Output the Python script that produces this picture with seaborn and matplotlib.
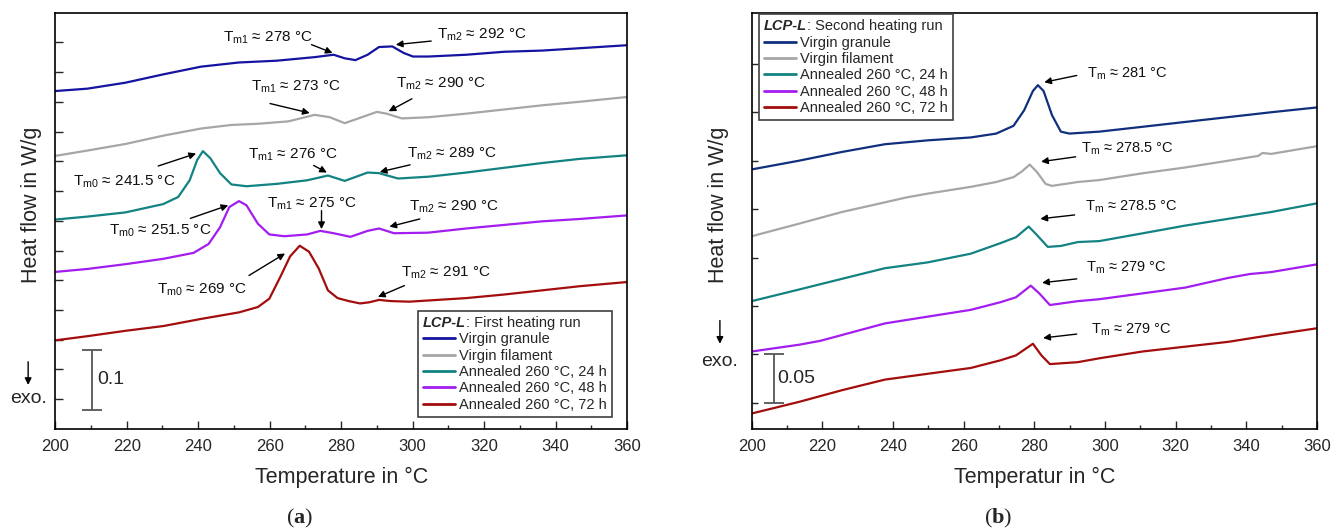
import numpy as np
import pandas as pd
import matplotlib
matplotlib.use("Agg")
import matplotlib.pyplot as plt
import seaborn as sns
from matplotlib.ticker import MultipleLocator, FixedLocator, NullFormatter
from matplotlib.lines import Line2D

# ------------------------------------------------------------------ data
series_labels = ["Virgin granule", "Virgin filament", "Annealed 260 °C, 24 h",
                 "Annealed 260 °C, 48 h", "Annealed 260 °C, 72 h"]

# Panel (a): first heating run (heat flow in W/g, offset curves)
a_T_granule = [200, 209, 219.6, 230.2, 240.8, 251.4, 262, 272.6, 277.9, 281, 284, 287.4, 290.6, 294.3,
               297.5, 300.1, 304.4, 315, 325.6, 336.2, 346.8, 360]
a_H_granule = [0.568, 0.572, 0.582, 0.596, 0.609, 0.616, 0.619, 0.625, 0.629, 0.623, 0.620, 0.629, 0.642,
               0.643, 0.632, 0.626, 0.626, 0.629, 0.634, 0.636, 0.640, 0.645]

a_T_filament = [200, 209, 219.6, 230.2, 240.8, 249.3, 256.7, 265.2, 272.6, 276.8, 281, 285.3, 290, 292.7,
                297, 304.4, 315, 325.6, 336.2, 346.8, 360]
a_H_filament = [0.459, 0.468, 0.479, 0.493, 0.505, 0.511, 0.513, 0.517, 0.528, 0.524, 0.514, 0.523, 0.533,
                0.530, 0.522, 0.524, 0.530, 0.537, 0.544, 0.550, 0.558]

a_T_24h = [200, 209, 219.6, 230.2, 234.4, 237.6, 239.7, 241.3, 243.4, 246.1, 249.3, 253.5, 262, 270.5,
           276.3, 281, 287.4, 290.6, 295.9, 304.4, 315, 325.6, 336.2, 346.8, 360]
a_H_24h = [0.352, 0.357, 0.364, 0.378, 0.390, 0.418, 0.452, 0.467, 0.455, 0.430, 0.411, 0.408, 0.412, 0.418,
           0.426, 0.417, 0.431, 0.430, 0.421, 0.424, 0.431, 0.439, 0.447, 0.454, 0.460]

a_T_48h = [200, 209, 219.6, 230.2, 238.7, 242.9, 246.1, 248.7, 251.4, 253.5, 256.7, 259.9, 264.1, 270.5,
           274.2, 277.9, 282.6, 287.4, 290.6, 294.8, 304.4, 315, 325.6, 336.2, 346.8, 360]
a_H_48h = [0.264, 0.269, 0.277, 0.286, 0.296, 0.311, 0.339, 0.373, 0.383, 0.376, 0.345, 0.327, 0.324, 0.327,
           0.333, 0.329, 0.323, 0.333, 0.337, 0.329, 0.330, 0.337, 0.343, 0.349, 0.353, 0.359]

a_T_72h = [200, 209, 219.6, 230.2, 240.8, 251.4, 256.7, 259.9, 263, 265.7, 268.4, 271, 273.7, 276.3, 279,
           282.1, 285.3, 287.9, 290.6, 293.8, 299.1, 315, 325.6, 336.2, 346.8, 360]
a_H_72h = [0.149, 0.156, 0.165, 0.173, 0.185, 0.196, 0.205, 0.219, 0.256, 0.290, 0.308, 0.298, 0.270, 0.233,
           0.220, 0.215, 0.211, 0.213, 0.217, 0.215, 0.214, 0.220, 0.226, 0.233, 0.240, 0.247]

# Panel (b): second heating run
b_T_granule = [200, 213.4, 225.5, 237.7, 249.8, 262, 269.2, 274.1, 277.1, 279.6, 281, 282.6, 285, 287.5,
               289.9, 298.4, 310.6, 322.7, 334.9, 347, 360]
b_H_granule = [0.241, 0.250, 0.259, 0.267, 0.271, 0.274, 0.278, 0.286, 0.302, 0.322, 0.328, 0.322, 0.297,
               0.280, 0.278, 0.280, 0.285, 0.290, 0.295, 0.300, 0.305]

b_T_filament = [200, 213.4, 225.5, 237.7, 243.7, 249.8, 262, 269.2, 274.1, 276.5, 278.7, 280.8, 283.2, 285,
                292.3, 298.4, 310.6, 322.7, 334.9, 343.4, 344.6, 347, 360]
b_H_filament = [0.172, 0.185, 0.197, 0.207, 0.212, 0.216, 0.223, 0.228, 0.233, 0.239, 0.246, 0.238, 0.226,
                0.224, 0.228, 0.230, 0.237, 0.243, 0.250, 0.255, 0.258, 0.257, 0.265]

b_T_24h = [200, 213.4, 225.5, 237.7, 249.8, 262, 270.5, 274.8, 278.4, 280.8, 283.8, 287.5, 292.3, 298.4,
           310.6, 322.7, 334.9, 347, 360]
b_H_24h = [0.105, 0.117, 0.128, 0.139, 0.145, 0.154, 0.165, 0.171, 0.182, 0.173, 0.161, 0.162, 0.166, 0.167,
           0.175, 0.183, 0.190, 0.197, 0.206]

b_T_48h = [200, 213.4, 219.4, 225.5, 237.7, 249.8, 262, 270.5, 274.8, 279, 281.4, 284.4, 292.3, 298.4,
           310.6, 322.7, 330, 334.9, 341, 347, 360]
b_H_48h = [0.053, 0.060, 0.064, 0.070, 0.082, 0.089, 0.096, 0.104, 0.109, 0.121, 0.113, 0.101, 0.105, 0.107,
           0.113, 0.119, 0.125, 0.129, 0.133, 0.135, 0.143]

b_T_72h = [200, 213.4, 225.5, 237.7, 249.8, 262, 270.5, 274.8, 279.6, 282, 284.4, 292.3, 298.4, 310.6,
           322.7, 334.9, 347, 360]
b_H_72h = [-0.011, 0.001, 0.013, 0.024, 0.030, 0.036, 0.044, 0.049, 0.061, 0.049, 0.040, 0.042, 0.046,
           0.053, 0.058, 0.063, 0.070, 0.077]

# annotations: (text, text position, arrow tail, arrow head)
a_annotations = [
    (r"T$_{\mathrm{m1}}$ ≈ 278 °C", (259.5, 0.657), (271.7, 0.646), (277.6, 0.632)),
    (r"T$_{\mathrm{m2}}$ ≈ 292 °C", (319.5, 0.663), (305.2, 0.652), (295.3, 0.646)),
    (r"T$_{\mathrm{m1}}$ ≈ 273 °C", (267.4, 0.575), (260.1, 0.547), (271.2, 0.531)),
    (r"T$_{\mathrm{m2}}$ ≈ 290 °C", (307.8, 0.580), (299.8, 0.555), (293.3, 0.534)),
    (r"T$_{\mathrm{m0}}$ ≈ 241.5 °C", (219.2, 0.415), (228.8, 0.442), (239.4, 0.463)),
    (r"T$_{\mathrm{m1}}$ ≈ 276 °C", (266.4, 0.461), (272.3, 0.443), (276.0, 0.431)),
    (r"T$_{\mathrm{m2}}$ ≈ 289 °C", (311.0, 0.463), (299.3, 0.444), (290.8, 0.432)),
    (r"T$_{\mathrm{m0}}$ ≈ 251.5 °C", (229.3, 0.333), (237.8, 0.354), (248.4, 0.376)),
    (r"T$_{\mathrm{m1}}$ ≈ 275 °C", (271.7, 0.379), (274.5, 0.367), (274.5, 0.336)),
    (r"T$_{\mathrm{m2}}$ ≈ 290 °C", (311.5, 0.374), (302.0, 0.353), (293.5, 0.340)),
    (r"T$_{\mathrm{m0}}$ ≈ 269 °C", (241.0, 0.234), (254.2, 0.258), (264.3, 0.295)),
    (r"T$_{\mathrm{m2}}$ ≈ 291 °C", (309.4, 0.262), (297.7, 0.241), (290.3, 0.222)),
]
b_annotations = [
    (r"T$_{\mathrm{m}}$ ≈ 281 °C", (306.2, 0.340), (292.0, 0.338), (282.8, 0.331)),
    (r"T$_{\mathrm{m}}$ ≈ 278.5 °C", (306.2, 0.262), (291.7, 0.254), (281.9, 0.249)),
    (r"T$_{\mathrm{m}}$ ≈ 278.5 °C", (307.5, 0.202), (291.4, 0.194), (281.7, 0.190)),
    (r"T$_{\mathrm{m}}$ ≈ 279 °C", (306.0, 0.139), (292.0, 0.128), (282.2, 0.124)),
    (r"T$_{\mathrm{m}}$ ≈ 279 °C", (307.5, 0.075), (292.0, 0.071), (282.5, 0.067)),
]

colors_a = ["#1414a0", "#a6a6a6", "#138282", "#a31cf0", "#a30d0d"]
colors_b = ["#10307e", "#a6a6a6", "#138282", "#a31cf0", "#a30d0d"]

# ------------------------------------------------------------------ style
sns.set_theme(style="ticks")
plt.rcParams["font.family"] = ["Liberation Sans", "DejaVu Sans"]
plt.rcParams["mathtext.fontset"] = "custom"
plt.rcParams["mathtext.rm"] = "Liberation Sans"
plt.rcParams["mathtext.it"] = "Liberation Sans:italic"
plt.rcParams["mathtext.bf"] = "Liberation Serif:bold"
plt.rcParams["axes.linewidth"] = 1.2

fig = plt.figure(figsize=(13.41, 5.32), dpi=100)
axA = fig.add_axes([0.04124, 0.19361, 0.42633, 0.78289])
axB = fig.add_axes([0.56055, 0.19361, 0.42155, 0.78289])


def draw_series(ax, Ts, Hs, colors):
    for T, H, c, lab in zip(Ts, Hs, colors, series_labels):
        df = pd.DataFrame({"T": T, "H": H})
        sns.lineplot(data=df, x="T", y="H", ax=ax, color=c, linewidth=1.6,
                     estimator=None, sort=False, legend=False,
                     solid_joinstyle="round", solid_capstyle="round")


draw_series(axA, [a_T_granule, a_T_filament, a_T_24h, a_T_48h, a_T_72h],
            [a_H_granule, a_H_filament, a_H_24h, a_H_48h, a_H_72h], colors_a)
draw_series(axB, [b_T_granule, b_T_filament, b_T_24h, b_T_48h, b_T_72h],
            [b_H_granule, b_H_filament, b_H_24h, b_H_48h, b_H_72h], colors_b)

axA.set_ylim(0, 0.70)
axB.set_ylim(-0.027, 0.403)
axA.yaxis.set_major_locator(FixedLocator(np.arange(0.05, 0.69, 0.05)))
axB.yaxis.set_major_locator(FixedLocator(np.arange(0.0, 0.39, 0.05)))

for ax, ylen in ((axA, 6), (axB, 4.5)):
    ax.set_xlim(200, 360)
    ax.xaxis.set_major_locator(MultipleLocator(20))
    ax.xaxis.set_minor_locator(MultipleLocator(10))
    ax.yaxis.set_major_formatter(NullFormatter())
    ax.tick_params(axis="x", which="major", direction="in", length=5.5, width=1.0,
                   labelsize=12, pad=7, top=False)
    ax.tick_params(axis="x", which="minor", direction="in", length=3, width=1.0, top=False)
    ax.tick_params(axis="y", which="major", direction="in", length=ylen, width=1.0, right=False)
    for s in ax.spines.values():
        s.set_visible(True)
        s.set_color("black")
        s.set_linewidth(1.2)
    ax.set_ylabel("Heat flow in W/g", fontsize=15.5)

axA.set_xlabel("Temperature in °C", fontsize=15.5)
axB.set_xlabel("Temperatur in °C", fontsize=15.5)
axA.xaxis.set_label_coords(0.5, -0.092)
axB.xaxis.set_label_coords(0.5, -0.092)
axA.yaxis.set_label_coords(-0.024, 0.538)
axB.yaxis.set_label_coords(-0.041, 0.538)

arrow_kw = dict(arrowstyle="-|>", color="black", lw=1.0, mutation_scale=10, shrinkA=0, shrinkB=0)
for ax, anns, fs in ((axA, a_annotations, 11), (axB, b_annotations, 10.5)):
    for txt, tpos, tail, head in anns:
        ax.annotate("", xy=head, xytext=tail, arrowprops=arrow_kw)
        ax.text(tpos[0], tpos[1], txt, fontsize=fs, ha="center", va="center", color="#111111")

# scale bars and exo. markers
axA.errorbar([210.3], [0.082], yerr=[0.05], fmt="none", ecolor="#555555", elinewidth=1.3,
             capsize=7.2, capthick=1.3)
axA.text(211.7, 0.0825, "0.1", fontsize=14, ha="left", va="center")
axA.annotate("", xy=(192.4, 0.074), xytext=(192.4, 0.113), arrowprops=arrow_kw,
             annotation_clip=False)
axA.text(192.4, 0.0505, "exo.", fontsize=14, ha="center", va="center", clip_on=False)

axB.errorbar([206.3], [0.025], yerr=[0.025], fmt="none", ecolor="#555555", elinewidth=1.3,
             capsize=7.5, capthick=1.3)
axB.text(207.1, 0.0256, "0.05", fontsize=14, ha="left", va="center")
axB.annotate("", xy=(191.0, 0.061), xytext=(191.0, 0.085), arrowprops=arrow_kw,
             annotation_clip=False)
axB.text(191.0, 0.043, "exo.", fontsize=14, ha="center", va="center", clip_on=False)

# legends
leg_kw = dict(alignment="left", fontsize=10.5, title_fontsize=10.5, frameon=True, fancybox=False,
              edgecolor="#404040", framealpha=1, borderpad=0.35, labelspacing=0.16,
              handlelength=2.2, handletextpad=0.3, borderaxespad=0)
legA = axA.legend([Line2D([], [], color=c, lw=2) for c in colors_a], series_labels,
                  loc="lower right", bbox_to_anchor=(0.974, 0.029),
                  title="LCP-L: First heating run ", **leg_kw)
legB = axB.legend([Line2D([], [], color=c, lw=2) for c in colors_b], series_labels,
                  loc="upper left", bbox_to_anchor=(0.0126, 0.996),
                  title="LCP-L: Second heating run ", **leg_kw)
for leg in (legA, legB):
    leg.get_frame().set_linewidth(1.2)
    leg.get_title().set_alpha(0)

fig.canvas.draw()
renderer = fig.canvas.get_renderer()
inv = fig.transFigure.inverted()
for leg, rest in ((legA, ": First heating run"), (legB, ": Second heating run")):
    bb = leg.get_title().get_window_extent(renderer)
    x0, y0 = inv.transform((bb.x0, bb.y0))
    t1 = fig.text(x0, y0, "LCP-L", fontsize=10.5, fontweight="bold", fontstyle="italic",
                  ha="left", va="bottom")
    bb1 = t1.get_window_extent(renderer)
    x1, _ = inv.transform((bb1.x1, bb1.y0))
    fig.text(x1, y0, rest, fontsize=10.5, ha="left", va="bottom")

# panel captions
fig.text(300 / 1341, 1 - 518 / 532, r"($\mathbf{a}$)", fontsize=16, ha="center", va="center",
         family="Liberation Serif")
fig.text(998 / 1341, 1 - 518 / 532, r"($\mathbf{b}$)", fontsize=16, ha="center", va="center",
         family="Liberation Serif")

fig.savefig("out.png", dpi=100)
